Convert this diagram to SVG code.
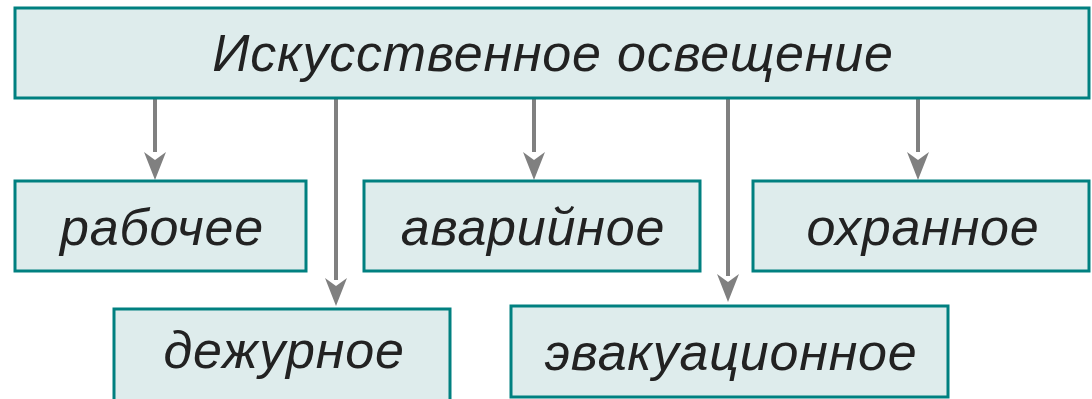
<svg xmlns="http://www.w3.org/2000/svg" width="1092" height="399" viewBox="0 0 1092 399">
<defs>
<style>
.box{fill:#deecec;stroke:#008080;stroke-width:3}
.t{font-family:"Liberation Sans",Arial,sans-serif;font-style:italic;fill:#222;text-anchor:middle;font-size:52px;letter-spacing:0.8px}
.c{stroke:#808080;stroke-width:4;fill:none}
.h{fill:#808080}
</style>
</defs>
<g id="connectors">
<line class="c" x1="155" y1="99" x2="155" y2="152"/>
<path class="h" d="M155 180 L144 152 L155 160 L166 152 Z"/>
<line class="c" x1="336" y1="99" x2="336" y2="280"/>
<path class="h" d="M336 306 L325 278 L336 286 L347 278 Z"/>
<line class="c" x1="534" y1="99" x2="534" y2="152"/>
<path class="h" d="M534 180 L523 152 L534 160 L545 152 Z"/>
<line class="c" x1="728" y1="95" x2="728" y2="276"/>
<path class="h" d="M728 302 L717 274 L728 282 L739 274 Z"/>
<line class="c" x1="918" y1="99" x2="918" y2="152"/>
<path class="h" d="M918 180 L907 152 L918 160 L929 152 Z"/>
</g>
<g id="root">
<rect class="box" x="15" y="8" width="1074" height="90"/>
<text class="t" x="553" y="71">Искусственное освещение</text>
</g>
<g id="n1">
<rect class="box" x="15" y="181" width="291" height="90"/>
<text class="t" x="162" y="245">рабочее</text>
</g>
<g id="n2">
<rect class="box" x="364" y="181" width="336" height="90"/>
<text class="t" x="533" y="245">аварийное</text>
</g>
<g id="n3">
<rect class="box" x="753" y="181" width="336" height="90"/>
<text class="t" x="923" y="245">охранное</text>
</g>
<g id="n4">
<rect class="box" x="114" y="309" width="336" height="92"/>
<text class="t" x="284" y="368">дежурное</text>
</g>
<g id="n5">
<rect class="box" x="511" y="306" width="437" height="91"/>
<text class="t" x="731" y="370">эвакуационное</text>
</g>
</svg>
